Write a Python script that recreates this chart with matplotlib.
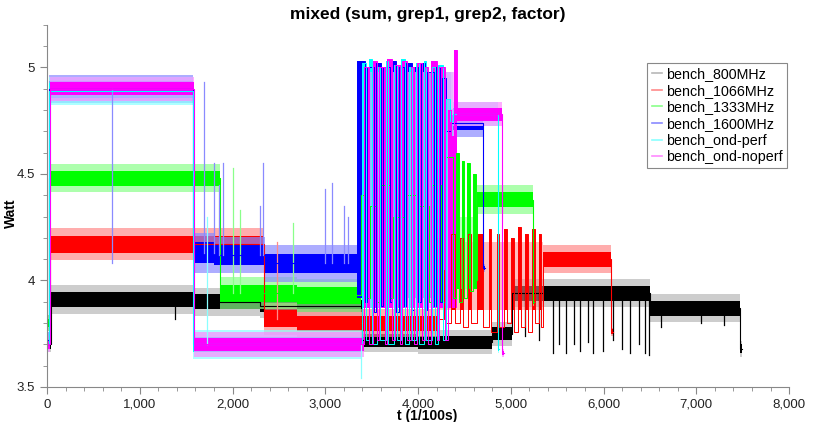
import numpy as np
import matplotlib
matplotlib.use('Agg')
import matplotlib.pyplot as plt
from matplotlib.ticker import MultipleLocator, FuncFormatter

plt.rcParams['font.family'] = ['Liberation Sans', 'DejaVu Sans']

# series names, colours (dark trace / light fringe)
names = ['bench_800MHz', 'bench_1066MHz', 'bench_1333MHz', 'bench_1600MHz',
         'bench_ond-perf', 'bench_ond-noperf']
dark = ['#000000', '#ff0000', '#00ff00', '#0000ff', '#00ffff', '#ff00ff']
light = ['#b8b8b8', '#ff8a8a', '#8aff8a', '#8a8aff', '#8affff', '#ff8aff']

# steady segments: (t start, t end, mean watt, noise half-width)
seg_800 = [(0, 40, 3.70, 0.02), (40, 1600, 3.91, 0.035), (1600, 2300, 3.90, 0.035),
           (2300, 3400, 3.88, 0.03), (3400, 4000, 3.72, 0.03), (4000, 4800, 3.71, 0.03),
           (4800, 5010, 3.75, 0.03), (5010, 6500, 3.94, 0.035), (6500, 7470, 3.87, 0.035),
           (7470, 7490, 3.68, 0.02)]
seg_1066 = [(0, 30, 3.80, 0.02), (30, 1600, 4.17, 0.04), (1600, 2340, 4.17, 0.04),
            (2340, 2700, 3.82, 0.04), (2700, 4200, 3.80, 0.035),
            (5350, 6080, 4.10, 0.035), (6080, 6100, 3.76, 0.01)]
seg_1333 = [(0, 25, 3.80, 0.02), (25, 1870, 4.48, 0.035), (1870, 2700, 3.94, 0.04),
            (2700, 3380, 3.93, 0.04), (4640, 5240, 4.38, 0.035), (5240, 5255, 3.90, 0.01)]
seg_1600 = [(0, 20, 3.72, 0.02), (20, 1570, 4.90, 0.035), (1570, 1800, 4.13, 0.05),
            (1800, 2350, 4.12, 0.045), (2350, 3340, 4.08, 0.045),
            (4350, 4700, 4.74, 0.035), (4700, 4720, 4.06, 0.01)]
seg_perf = [(0, 25, 3.70, 0.02), (25, 1575, 4.89, 0.035), (1575, 3400, 3.70, 0.035),
            (4380, 4860, 4.78, 0.03), (4860, 4875, 3.68, 0.01)]
seg_noperf = [(0, 35, 3.70, 0.02), (35, 1580, 4.90, 0.03), (1580, 3420, 3.70, 0.03),
              (4420, 4910, 4.78, 0.03), (4910, 4925, 3.66, 0.01)]

# switching phases (step values, each holds until the next time)
osc_t_1066 = [4200, 4200, 4230, 4280, 4300, 4360, 4400, 4450, 4480, 4540, 4570, 4640, 4700,
              4760, 4790, 4850, 4870, 4930, 4960, 5000, 5030, 5080, 5110, 5150, 5180, 5230,
              5260, 5300, 5330, 5350]
osc_v_1066 = [3.80, 4.20, 3.82, 4.05, 3.80, 4.22, 3.80, 4.20, 3.78, 4.22, 3.80, 4.22, 3.78,
              4.24, 3.76, 4.22, 3.78, 4.24, 3.80, 4.20, 3.76, 4.25, 3.78, 4.22, 3.76, 4.24,
              3.80, 4.22, 3.78, 4.10]
osc_t_1333 = [3380, 3380, 3450, 3480, 3560, 3590, 3700, 3730, 3850, 3880, 3980, 4010, 4120,
              4150, 4250, 4290, 4380, 4410, 4440, 4470, 4500, 4530, 4560, 4590, 4620, 4640]
osc_v_1333 = [3.93, 4.40, 3.92, 4.35, 3.90, 4.45, 3.92, 4.30, 3.90, 4.40, 3.92, 4.35, 3.90,
              4.45, 3.90, 4.58, 3.92, 4.60, 3.90, 4.56, 3.92, 4.55, 3.95, 4.50, 4.00, 4.38]
osc_t_1600 = [3340, 3340, 3430, 3450, 3520, 3545, 3600, 3625, 3700, 3720, 3760, 3790, 3850,
              3870, 3930, 3955, 4000, 4030, 4080, 4100, 4170, 4190, 4240, 4260, 4300, 4350]
osc_v_1600 = [4.08, 5.03, 3.90, 5.00, 3.85, 5.02, 3.88, 5.00, 3.90, 5.03, 3.85, 5.00, 3.88,
              5.02, 3.86, 5.00, 3.90, 5.02, 3.86, 4.98, 3.88, 5.00, 3.90, 4.95, 4.70, 4.74]
osc_t_perf = [3400, 3400, 3440, 3470, 3500, 3560, 3590, 3650, 3680, 3740, 3770, 3820, 3860,
              3900, 3940, 3980, 4010, 4060, 4090, 4150, 4180, 4220, 4270, 4300, 4340, 4380]
osc_v_perf = [3.70, 5.02, 3.72, 5.04, 3.70, 5.00, 3.72, 5.03, 3.70, 5.01, 3.72, 5.04, 3.70,
              5.00, 3.72, 5.02, 3.70, 5.03, 3.72, 5.00, 3.70, 5.01, 3.72, 4.85, 4.75, 4.78]
osc_t_noperf = [3420, 3420, 3470, 3510, 3560, 3580, 3640, 3670, 3720, 3750, 3800, 3830, 3880,
                3920, 3960, 3990, 4040, 4070, 4110, 4140, 4200, 4230, 4290, 4320, 4360, 4390,
                4420]
osc_v_noperf = [3.70, 5.00, 3.70, 5.03, 3.72, 5.00, 3.70, 5.04, 3.72, 5.01, 3.70, 5.03, 3.72,
                5.00, 3.70, 5.02, 3.72, 5.00, 3.70, 5.03, 3.72, 5.00, 3.72, 4.80, 4.68, 5.08,
                4.78]
# lower edge of the coloured switching blocks, and top of their faint haze
osc_floor = [None, 3.86, 3.96, 3.92, 3.87, 3.87]
osc_haze = [None, 4.18, 4.30, 4.98, 4.98, 4.98]

# single spikes: (t, tip watt)
spk_800 = [(1380, 3.82), (5150, 3.74), (5300, 3.72), (5460, 3.66), (5520, 3.70), (5600, 3.66),
           (5680, 3.70), (5750, 3.67), (5830, 3.71), (5890, 3.66), (5990, 3.67), (6100, 3.72),
           (6200, 3.68), (6290, 3.66), (6380, 3.70), (6450, 3.66), (6495, 3.65), (6620, 3.78),
           (7050, 3.80), (7300, 3.79)]
spk_1066 = [(2480, 4.18)]
spk_1333 = [(2005, 4.53), (2080, 4.33), (2650, 4.27)]
spk_1600 = [(700, 4.08), (1695, 4.93), (1800, 4.55), (1850, 4.45), (1900, 4.55), (2300, 4.35),
            (2330, 4.55), (3000, 4.43), (3070, 4.46), (3200, 4.35), (3245, 4.30)]
spk_perf = [(1720, 4.30), (3390, 3.54)]
spk_noperf = []

segs = [seg_800, seg_1066, seg_1333, seg_1600, seg_perf, seg_noperf]
osc = [(None, None), (osc_t_1066, osc_v_1066), (osc_t_1333, osc_v_1333),
       (osc_t_1600, osc_v_1600), (osc_t_perf, osc_v_perf), (osc_t_noperf, osc_v_noperf)]
spikes = [spk_800, spk_1066, spk_1333, spk_1600, spk_perf, spk_noperf]


def level_at(sg, t):
    for t0, t1, lev, h in sg:
        if t0 <= t <= t1:
            return lev
    return sg[-1][2]


fig = plt.figure(figsize=(8.15, 4.22), dpi=100)
ax = fig.add_axes([0.0577, 0.083, 0.9105, 0.858])

for i in range(6):
    sg = segs[i]
    for t0, t1, lev, h in sg:
        ax.fill_between([t0, t1], [lev - 1.9 * h] * 2, [lev + 1.9 * h] * 2,
                        color=light[i], lw=0, alpha=0.7)
        ax.fill_between([t0, t1], [lev - h] * 2, [lev + h] * 2, color=dark[i], lw=0)
    # centre trace, joined where segments touch
    xs, ys = [], []
    for k, (t0, t1, lev, h) in enumerate(sg):
        if k > 0 and sg[k - 1][1] != t0:
            xs.append(np.nan); ys.append(np.nan)
        xs += [t0, t1]; ys += [lev, lev]
    ax.plot(xs, ys, color=dark[i], lw=0.8)
    ot, ov = osc[i]
    if ot is not None:
        fl = osc_floor[i]
        ax.fill_between([ot[0], ot[-1]], [fl, fl], [osc_haze[i]] * 2,
                        color=light[i], lw=0, alpha=0.55)
        for k in range(len(ot) - 1):
            if ov[k] > fl and ot[k + 1] > ot[k]:
                ax.fill_between([ot[k], ot[k + 1]], [fl, fl], [ov[k], ov[k]],
                                color=dark[i], lw=0)
        ax.plot(ot, ov, color=dark[i], lw=0.7, drawstyle='steps-post')
    for t, tip in spikes[i]:
        ax.plot([t, t], [level_at(sg, t), tip], color=dark[i] if i == 0 else light[i], lw=0.9)
    ax.plot([], [], color=light[i], lw=1.2, label=names[i])

ax.set_xlim(0, 8000)
ax.set_ylim(3.5, 5.2)
ax.xaxis.set_major_locator(MultipleLocator(1000))
ax.xaxis.set_minor_locator(MultipleLocator(200))
ax.yaxis.set_major_locator(MultipleLocator(0.5))
ax.yaxis.set_minor_locator(MultipleLocator(0.1))
ax.xaxis.set_major_formatter(FuncFormatter(lambda v, p: f'{v:,.0f}'))
ax.yaxis.set_major_formatter(FuncFormatter(lambda v, p: f'{v:g}'))
for s in ['top', 'right']:
    ax.spines[s].set_visible(False)
for s in ['left', 'bottom']:
    ax.spines[s].set_color('#888888')
ax.tick_params(which='both', colors='#888888', labelcolor='#222222', labelsize=9.5)
ax.tick_params(which='major', length=5)
ax.tick_params(which='minor', length=3)

fig.text(428 / 815, 1 - 15 / 422, 'mixed (sum, grep1, grep2, factor)', fontsize=12.5,
         fontweight='bold', ha='center', va='center')
ax.set_xlabel('t (1/100s)', fontsize=10, fontweight='bold')
ax.xaxis.set_label_coords(0.512, -0.062)
ax.set_ylabel('Watt', fontsize=10, fontweight='bold')
ax.yaxis.set_label_coords(-0.039, 0.48)

leg = ax.legend(loc='upper right', bbox_to_anchor=(0.997, 0.895), fontsize=10.3,
                frameon=True, fancybox=False, framealpha=1, edgecolor='#888888',
                handlelength=0.7, handletextpad=0.3, labelspacing=0.18, borderpad=0.3,
                borderaxespad=0)
leg.get_frame().set_linewidth(0.8)

fig.savefig('out.png', dpi=100)
